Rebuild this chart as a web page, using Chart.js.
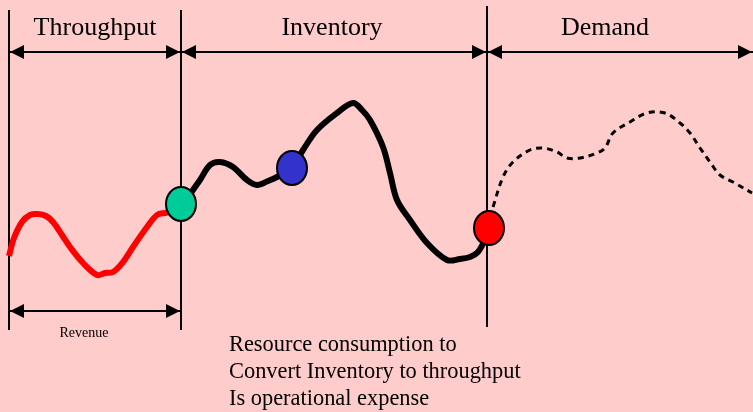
<!DOCTYPE html>
<html>
<head>
<meta charset="utf-8">
<script src="https://cdn.jsdelivr.net/npm/chart.js@4.4.0/dist/chart.umd.min.js"></script>
<style>
  html, body { margin: 0; padding: 0; background: #ffcccc; }
  #wrap { width: 753px; height: 412px; }
</style>
</head>
<body>
<div id="wrap"><canvas id="flowChart"></canvas></div>
<script>
  // section boundaries and headers
  const boundaryX = [9, 181, 487];
  const boundaryTop = [10, 10, 6];
  const boundaryBottom = [330, 330, 327];
  const sectionLabels = ['Throughput', 'Inventory', 'Demand'];
  const sectionCenters = [95, 332, 605];
  const sectionArrows = [[9, 181], [181, 487], [487, 753]];

  // throughput (red) curve
  const redX = [9, 14, 22, 30, 38, 46, 53, 62, 70, 83, 97, 105, 113, 123, 133, 147, 157, 165, 172];
  const redY = [256, 238, 222, 215, 214, 216, 222, 235, 247, 263, 275, 273, 272, 262, 247, 227, 215, 213, 212];

  // inventory (black) curve
  const blackX = [186, 193, 200, 210, 220, 233, 247, 257, 268, 277, 292, 303, 317, 337, 353, 362, 370, 383, 390, 397, 410, 427, 447, 460, 470, 478, 485];
  const blackY = [200, 190, 180, 165, 162, 167, 180, 185, 181, 177, 168, 150, 130, 113, 103, 110, 120, 147, 173, 200, 220, 243, 260, 259, 257, 252, 240];

  // demand (dashed) curve
  const demandX = [493, 503, 513, 530, 543, 557, 567, 580, 597, 605, 613, 630, 647, 665, 680, 690, 700, 710, 720, 733, 752];
  const demandY = [207, 177, 162, 150, 148, 152, 158, 158, 153, 148, 133, 122, 113, 113, 123, 133, 148, 162, 175, 182, 193];

  // nodes
  const nodeX = [181, 292, 489];
  const nodeY = [204, 168, 228];
  const nodeColors = ['#00cc99', '#3333cc', '#ff0000'];

  // revenue arrow and notes
  const revenueArrow = [9, 181];
  const revenueY = 311;
  const revenueLabel = 'Revenue';
  const noteLines = ['Resource consumption to', 'Convert Inventory to throughput', 'Is operational expense'];
  const arrowY = 52;

  const pts = (xs, ys) => xs.map((x, i) => ({ x: x, y: ys[i] }));

  const ellipse = (fill) => {
    const c = document.createElement('canvas');
    c.width = 34; c.height = 38;
    const g = c.getContext('2d');
    g.beginPath();
    g.ellipse(17, 19, 15, 17, 0, 0, Math.PI * 2);
    g.fillStyle = fill;
    g.fill();
    g.lineWidth = 2;
    g.strokeStyle = '#000';
    g.stroke();
    return c;
  };

  const datasets = [];
  nodeX.forEach((x, i) => {
    datasets.push({
      data: [{ x: x, y: nodeY[i] }],
      pointStyle: ellipse(nodeColors[i]),
      showLine: false,
      order: 0
    });
  });
  datasets.push({ data: pts(redX, redY), borderColor: '#ff0000', borderWidth: 6, tension: 0.35, pointRadius: 0, showLine: true, order: 1 });
  datasets.push({ data: pts(blackX, blackY), borderColor: '#000', borderWidth: 6, tension: 0.35, pointRadius: 0, showLine: true, order: 1 });
  datasets.push({ data: pts(demandX, demandY), borderColor: '#000', borderWidth: 3, borderDash: [6, 5], tension: 0.35, pointRadius: 0, showLine: true, order: 1 });
  boundaryX.forEach((x, i) => {
    datasets.push({ data: [{ x: x, y: boundaryTop[i] }, { x: x, y: boundaryBottom[i] }], borderColor: '#000', borderWidth: 2, pointRadius: 0, showLine: true, order: 2 });
  });

  const arrowHead = (ctx, x, y, dir) => {
    ctx.beginPath();
    ctx.moveTo(x, y);
    ctx.lineTo(x + dir * 14, y - 7);
    ctx.lineTo(x + dir * 14, y + 7);
    ctx.closePath();
    ctx.fill();
  };

  const drawArrow = (ctx, xs, x1, x2, y) => {
    const a = xs.getPixelForValue(x1), b = xs.getPixelForValue(x2);
    ctx.beginPath();
    ctx.moveTo(a, y);
    ctx.lineTo(b, y);
    ctx.stroke();
    arrowHead(ctx, a + 1, y, 1);
    arrowHead(ctx, b - 1, y, -1);
  };

  const decorations = {
    id: 'decorations',
    beforeDraw(chart) {
      const ctx = chart.ctx;
      ctx.save();
      ctx.fillStyle = '#ffcccc';
      ctx.fillRect(0, 0, chart.width, chart.height);
      ctx.restore();
    },
    afterDatasetsDraw(chart) {
      const ctx = chart.ctx;
      const xs = chart.scales.x, ys = chart.scales.y;
      ctx.save();
      ctx.strokeStyle = '#000';
      ctx.fillStyle = '#000';
      ctx.lineWidth = 2;
      sectionArrows.forEach(([a, b]) => drawArrow(ctx, xs, a, b, ys.getPixelForValue(arrowY)));
      drawArrow(ctx, xs, revenueArrow[0], revenueArrow[1], ys.getPixelForValue(revenueY));

      ctx.textAlign = 'center';
      ctx.textBaseline = 'alphabetic';
      ctx.font = '26px "Liberation Serif", "Times New Roman", serif';
      sectionLabels.forEach((t, i) => ctx.fillText(t, xs.getPixelForValue(sectionCenters[i]), ys.getPixelForValue(35)));

      ctx.font = '14px "Liberation Serif", serif';
      ctx.fillText(revenueLabel, xs.getPixelForValue(84), ys.getPixelForValue(337));

      ctx.textAlign = 'left';
      ctx.font = '22.4px "Liberation Serif", serif';
      noteLines.forEach((t, i) => ctx.fillText(t, xs.getPixelForValue(229), ys.getPixelForValue(351 + i * 27)));
      ctx.restore();
    }
  };

  new Chart(document.getElementById('flowChart').getContext('2d'), {
    type: 'scatter',
    data: { datasets: datasets },
    options: {
      responsive: true,
      maintainAspectRatio: false,
      animation: false,
      layout: { padding: 0, autoPadding: false },
      scales: {
        x: { type: 'linear', min: 0, max: 753, display: false },
        y: { type: 'linear', min: 0, max: 412, reverse: true, display: false }
      },
      plugins: {
        legend: { display: false },
        tooltip: { enabled: false }
      }
    },
    plugins: [decorations]
  });
</script>
</body>
</html>
